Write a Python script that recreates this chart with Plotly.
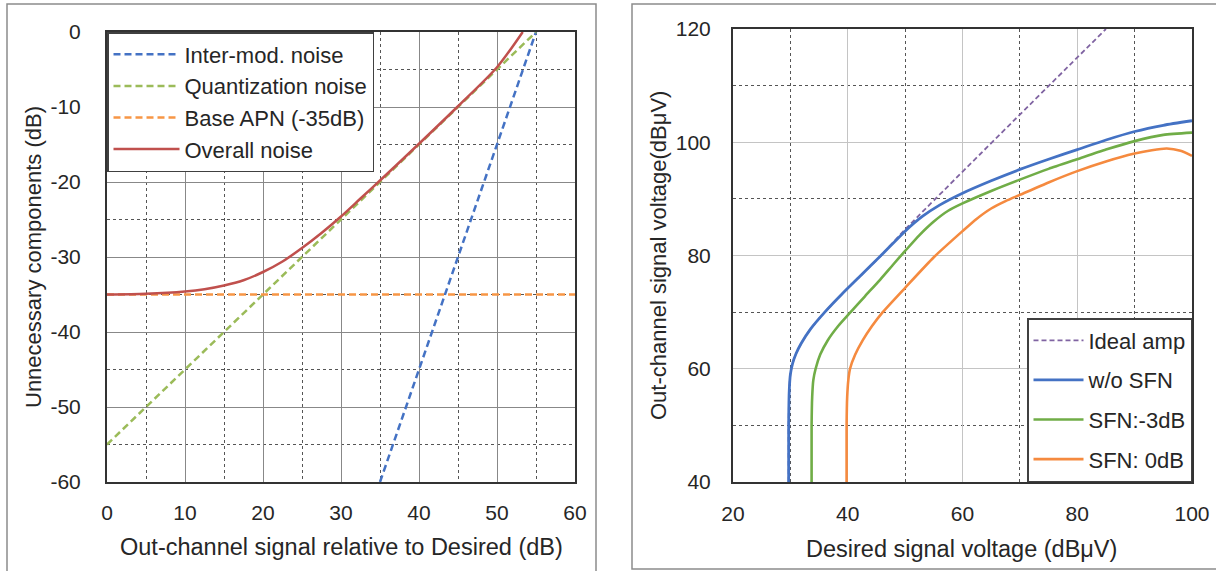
import plotly.graph_objects as go

W, H = 1216, 571

# ---------------- Left chart data ----------------
imd_x = [35, 55]
imd_y = [-60, 0]
quant_x = [0, 55]
quant_y = [-55, 0]
apn_x = [0, 60]
apn_y = [-35, -35]
overall_x = [0, 5, 10, 12.5, 15, 17.5, 20, 22.5, 25, 27.5, 30, 32.5, 35, 40, 45, 50, 53.3]
overall_y = [-35, -34.9, -34.6, -34.3, -33.8, -33.1, -32.0, -30.6, -28.8, -26.8, -24.6, -22.2, -19.8, -14.9, -9.9, -4.7, 0]

# ---------------- Right chart data ----------------
ideal_x = [29.7, 29.7, 29.8, 30.0, 30.4, 31.0, 31.9, 33.5, 36, 39, 42, 46, 50, 85]
ideal_y = [40, 50, 56, 59, 61, 62.7, 64.5, 67, 70, 73.2, 76.2, 80.2, 84.6, 120]
wo_x = [29.7, 29.7, 29.8, 30.0, 30.4, 31.0, 31.9, 33.5, 36, 39, 42, 46, 50, 53, 56, 60, 65, 70, 75, 80, 85, 90, 95, 100]
wo_y = [40, 50, 56, 59, 61, 62.7, 64.5, 67, 70, 73.2, 76.2, 80.2, 84.3, 86.9, 88.9, 91.0, 93.2, 95.2, 97.0, 98.7, 100.4, 101.9, 103.0, 103.8]
sfn3_x = [33.7, 33.7, 33.8, 34.0, 34.4, 35.2, 36.5, 38.3, 40.5, 43, 45.7, 48, 50, 52.5, 55, 57.5, 60, 65, 70, 75, 80, 85, 90, 95, 100]
sfn3_y = [40, 50, 55, 58, 60, 62.5, 65, 67.5, 70, 72.8, 75.8, 78.5, 80.8, 83.6, 86.0, 87.9, 89.2, 91.4, 93.4, 95.3, 97.0, 98.7, 100.2, 101.3, 101.7]
sfn0_x = [39.8, 39.8, 39.9, 40.1, 40.4, 41.3, 42.6, 44.2, 46.1, 50, 55, 60, 62.5, 65, 67.5, 70, 75, 80, 85, 90, 93, 95.6, 98, 100]
sfn0_y = [40, 50, 55, 58, 60, 62.5, 65, 67.5, 70, 74.3, 79.7, 84.3, 86.5, 88.3, 89.6, 90.7, 92.9, 94.9, 96.6, 98.0, 98.6, 98.9, 98.5, 97.6]

left_xticks = [0, 10, 20, 30, 40, 50, 60]
left_yticks = [0, -10, -20, -30, -40, -50, -60]
right_xticks = [20, 40, 60, 80, 100]
right_yticks = [40, 60, 80, 100, 120]

FONT = "Liberation Sans, Arial, sans-serif"
TXT = "#262626"

def px_x(p):
    return p / W

def px_y(p):
    return 1 - p / H

fig = go.Figure()

dash_l = "7px,4px"
fig.add_trace(go.Scatter(x=imd_x, y=imd_y, mode="lines", name="Inter-mod. noise",
                         line=dict(color="#4472C4", width=2.5, dash=dash_l),
                         xaxis="x", yaxis="y", legend="legend"))
fig.add_trace(go.Scatter(x=quant_x, y=quant_y, mode="lines", name="Quantization noise",
                         line=dict(color="#9BBB59", width=2.5, dash=dash_l),
                         xaxis="x", yaxis="y", legend="legend"))
fig.add_trace(go.Scatter(x=apn_x, y=apn_y, mode="lines", name="Base APN (-35dB)",
                         line=dict(color="#F79646", width=2.5, dash=dash_l),
                         xaxis="x", yaxis="y", legend="legend"))
fig.add_trace(go.Scatter(x=overall_x, y=overall_y, mode="lines", name="Overall noise",
                         line=dict(color="#C0504D", width=2.5, shape="spline", smoothing=0.8),
                         xaxis="x", yaxis="y", legend="legend"))

fig.add_trace(go.Scatter(x=ideal_x, y=ideal_y, mode="lines", name="Ideal amp",
                         line=dict(color="#8064A2", width=1.8, dash="5px,3px", shape="spline", smoothing=0.6),
                         xaxis="x2", yaxis="y2", legend="legend2", legendgroup="a"))
fig.add_trace(go.Scatter(x=wo_x, y=wo_y, mode="lines", name="w/o SFN",
                         line=dict(color="#4472C4", width=2.8, shape="spline", smoothing=0.6),
                         xaxis="x2", yaxis="y2", legend="legend2", legendgroup="b"))
fig.add_trace(go.Scatter(x=sfn3_x, y=sfn3_y, mode="lines", name="SFN:-3dB",
                         line=dict(color="#70AD47", width=2.6, shape="spline", smoothing=0.6),
                         xaxis="x2", yaxis="y2", legend="legend2", legendgroup="c"))
fig.add_trace(go.Scatter(x=sfn0_x, y=sfn0_y, mode="lines", name="SFN: 0dB",
                         line=dict(color="#F58A3F", width=2.6, shape="spline", smoothing=0.6),
                         xaxis="x2", yaxis="y2", legend="legend2", legendgroup="d"))

tickfont = dict(family=FONT, size=21, color=TXT)

def axis(domain, rng, tickvals, minor_dtick, gridcolor, anchor, ticklen):
    return dict(domain=domain, range=rng, tickvals=tickvals,
                ticktext=[str(v) for v in tickvals], anchor=anchor,
                showgrid=True, gridcolor=gridcolor, gridwidth=1.2,
                minor=dict(dtick=minor_dtick, tick0=0, showgrid=True, griddash="dot",
                           gridcolor="#555555", gridwidth=1.2),
                showline=True, linecolor="#333333", linewidth=2, mirror=True,
                ticks="outside", ticklen=ticklen, tickcolor="rgba(0,0,0,0)",
                tickfont=tickfont, zeroline=False, fixedrange=True, automargin=False)

fig.update_layout(
    width=W, height=H, margin=dict(l=0, r=0, t=0, b=0, autoexpand=False),
    paper_bgcolor="white", plot_bgcolor="white",
    font=dict(family=FONT, color=TXT),
    xaxis=axis([px_x(107), px_x(575)], [0, 60], left_xticks, 5, "#888888", "y", 11),
    yaxis=axis([px_y(482), px_y(32)], [-60, 0], left_yticks, 5, "#888888", "x", 20),
    xaxis2=axis([px_x(733), px_x(1192)], [20, 100], right_xticks, 10, "#c4c4c4", "y2", 12),
    yaxis2=axis([px_y(482), px_y(29)], [40, 120], right_yticks, 10, "#c4c4c4", "x2", 16),
    legend=dict(x=px_x(107), y=px_y(32), xanchor="left", yanchor="top",
                bgcolor="white", bordercolor="#404040", borderwidth=1.5,
                font=dict(family=FONT, size=22, color=TXT), itemwidth=66,
                tracegroupgap=0),
    legend2=dict(x=px_x(1192), y=px_y(482), xanchor="right", yanchor="bottom",
                 bgcolor="white", bordercolor="#404040", borderwidth=1.5,
                 font=dict(family=FONT, size=22, color=TXT), itemwidth=50,
                 tracegroupgap=8),
    showlegend=True,
)

annots = [
    dict(text="Out-channel signal relative to Desired (dB)", x=px_x(341), y=px_y(547), size=23.5),
    dict(text="Unnecessary components (dB)", x=px_x(33), y=px_y(257), textangle=-90, size=22),
    dict(text="Desired signal voltage (dB\u03bcV)", x=px_x(962), y=px_y(549), size=23.5),
    dict(text="Out-channel signal voltage(dB\u03bcV)", x=px_x(658), y=px_y(255), textangle=-90, size=22),
]
for a in annots:
    size = a.pop("size")
    fig.add_annotation(xref="paper", yref="paper", showarrow=False,
                       xanchor="center", yanchor="middle",
                       font=dict(family=FONT, size=size, color=TXT), **a)

# panel frames
fig.add_shape(type="rect", xref="paper", yref="paper",
              x0=px_x(7), x1=px_x(596), y0=px_y(580), y1=px_y(4),
              line=dict(color="#8c8c8c", width=1.5), layer="below")
fig.add_shape(type="rect", xref="paper", yref="paper",
              x0=px_x(632), x1=px_x(1230), y0=px_y(569), y1=px_y(4),
              line=dict(color="#8c8c8c", width=1.5), layer="below")

fig.write_html("out.html", config={"displayModeBar": False},
               post_script="document.body.style.margin='0';document.body.style.overflow='hidden';")
